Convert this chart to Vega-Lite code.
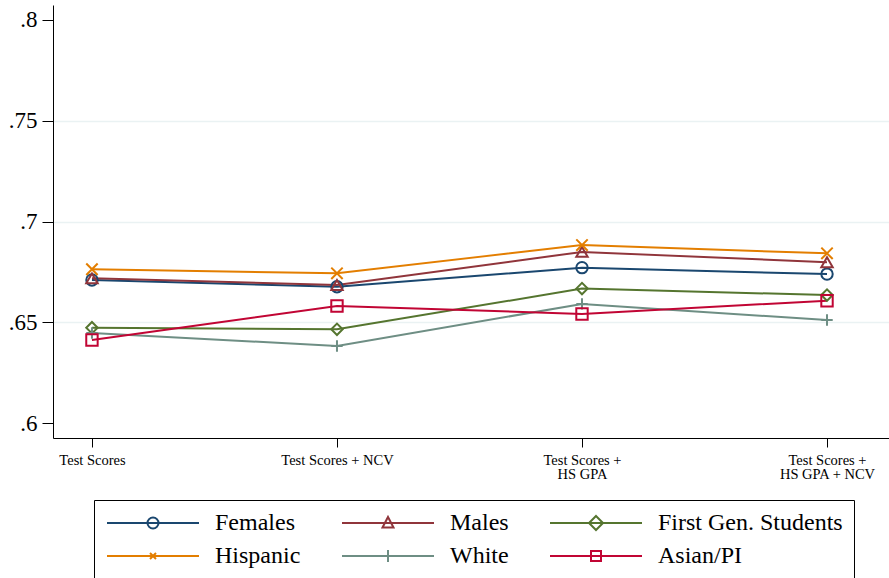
{
  "$schema": "https://vega.github.io/schema/vega-lite/v6.json",
  "autosize": {"type": "none"},
  "padding": {"left": 53, "top": 5, "right": 0, "bottom": 140},
  "width": 836,
  "height": 433,
  "background": "white",
  "config": {
    "view": {"stroke": null},
    "font": "Liberation Serif",
    "axis": {"labelFont": "Liberation Serif", "labelColor": "black", "domainColor": "black", "tickColor": "black", "domainWidth": 1, "tickWidth": 1},
    "legend": {"labelFont": "Liberation Serif"}
  },
  "data": {
    "values": [
      {"series": "Females", "step": 0, "value": 0.6710},
      {"series": "Females", "step": 1, "value": 0.6676},
      {"series": "Females", "step": 2, "value": 0.6771},
      {"series": "Females", "step": 3, "value": 0.6739},
      {"series": "Males", "step": 0, "value": 0.6718},
      {"series": "Males", "step": 1, "value": 0.6685},
      {"series": "Males", "step": 2, "value": 0.6849},
      {"series": "Males", "step": 3, "value": 0.6798},
      {"series": "First Gen. Students", "step": 0, "value": 0.6473},
      {"series": "First Gen. Students", "step": 1, "value": 0.6465},
      {"series": "First Gen. Students", "step": 2, "value": 0.6667},
      {"series": "First Gen. Students", "step": 3, "value": 0.6635},
      {"series": "Hispanic", "step": 0, "value": 0.6763},
      {"series": "Hispanic", "step": 1, "value": 0.6743},
      {"series": "Hispanic", "step": 2, "value": 0.6883},
      {"series": "Hispanic", "step": 3, "value": 0.6842},
      {"series": "White", "step": 0, "value": 0.6447},
      {"series": "White", "step": 1, "value": 0.6382},
      {"series": "White", "step": 2, "value": 0.6591},
      {"series": "White", "step": 3, "value": 0.6511},
      {"series": "Asian/PI", "step": 0, "value": 0.6412},
      {"series": "Asian/PI", "step": 1, "value": 0.6581},
      {"series": "Asian/PI", "step": 2, "value": 0.6541},
      {"series": "Asian/PI", "step": 3, "value": 0.6607}
    ]
  },
  "encoding": {
    "x": {
      "field": "step", "type": "quantitative",
      "scale": {"domain": [-0.159, 3.253], "nice": false, "zero": false},
      "axis": {
        "title": null, "values": [0, 1, 2, 3], "grid": false,
        "tickSize": 9, "labelPadding": 6, "labelFontSize": 14.5, "labelLineHeight": 14,
        "labelBaseline": "top", "labelFont": "Liberation Serif",
        "labelExpr": "datum.value == 0 ? 'Test Scores' : datum.value == 1 ? 'Test Scores + NCV' : datum.value == 2 ? ['Test Scores +', 'HS GPA'] : ['Test Scores +', 'HS GPA + NCV']"
      }
    },
    "y": {
      "field": "value", "type": "quantitative",
      "scale": {"domain": [0.59256, 0.80744], "nice": false, "zero": false},
      "axis": {
        "title": null, "values": [0.6, 0.65, 0.7, 0.75, 0.8],
        "tickSize": 11, "labelPadding": 5, "labelFontSize": 23, "labelFont": "Liberation Serif",
        "grid": true, "gridColor": "#eaf2f3", "gridWidth": 1.5,
        "gridOpacity": {"condition": {"test": "datum.value < 0.62 || datum.value > 0.78", "value": 0}, "value": 1},
        "labelExpr": "replace(format(datum.value, '.2~f'), '0.', '.')"
      }
    },
    "color": {
      "field": "series", "type": "nominal",
      "scale": {
        "domain": ["Females", "Males", "First Gen. Students", "Hispanic", "White", "Asian/PI"],
        "range": ["#1a476f", "#90353b", "#55752f", "#e37e00", "#6e8e84", "#c10534"]
      },
      "legend": null
    }
  },
  "layer": [
    {
      "mark": {"type": "line", "strokeWidth": 2}
    },
    {
      "mark": {"type": "point", "filled": false, "strokeWidth": 2, "size": 130, "opacity": 1},
      "encoding": {
        "shape": {
          "field": "series", "type": "nominal",
          "scale": {
            "domain": ["Females", "Males", "First Gen. Students", "Hispanic", "White", "Asian/PI"],
            "range": ["circle", "triangle-up", "diamond", "M-1,-1L1,1M-1,1L1,-1", "M-1,0H1M0,-1V1", "square"]
          },
          "legend": null
        }
      }
    },
    {
      "mark": {"type": "point", "filled": false, "strokeWidth": 2, "size": 400, "opacity": 0},
      "encoding": {
        "color": {"field": "series", "type": "nominal", "legend": null},
        "shape": {
          "field": "series", "type": "nominal",
          "scale": {
            "domain": ["Females", "Males", "First Gen. Students", "Hispanic", "White", "Asian/PI"],
            "range": [
              "M-1,0H8.2M3.05,0A0.55,0.55 0 1,0 4.15,0A0.55,0.55 0 1,0 3.05,0",
              "M-1,0H8.2M3.6,-0.6L4.15,0.45L3.05,0.45Z",
              "M-1,0H8.2M3.6,-0.7L4.3,0L3.6,0.7L2.9,0Z",
              "M-1,0H8.2M3.3,-0.3L3.9,0.3M3.3,0.3L3.9,-0.3",
              "M-1,0H8.2M3.6,-0.6V0.6",
              "M-1,0H8.2M3.1,-0.5H4.1V0.5H3.1Z"
            ]
          },
          "legend": {
            "title": null, "orient": "none", "legendX": 41, "legendY": 495,
            "columns": 3, "direction": "horizontal",
            "labelFont": "Liberation Serif", "labelFontSize": 24, "labelColor": "black", "labelLimit": 400,
            "labelOffset": 86, "columnPadding": 37, "rowPadding": 9,
            "symbolSize": 400, "symbolStrokeWidth": 2, "symbolOpacity": 1,
            "symbolStrokeColor": {"expr": "scale('color', datum.value)"},
            "strokeColor": "black", "fillColor": "white", "padding": 11,
            "encode": {
              "symbols": {"stroke": {"value": {"expr": "scale('color', datum.value)"}}, "fill": {"value": "transparent"}}
            }
          }
        }
      }
    }
  ],
  "resolve": {"scale": {"shape": "independent"}}
}
